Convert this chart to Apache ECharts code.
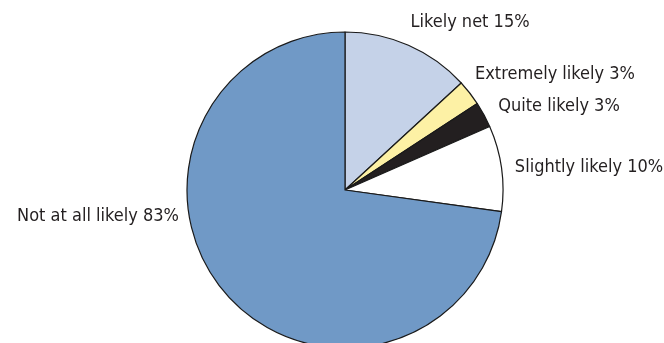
<!DOCTYPE html>
<html>
<head>
<meta charset="utf-8">
<script src="https://cdn.jsdelivr.net/npm/echarts@6/dist/echarts.min.js"></script>
<style>
  html, body { margin: 0; padding: 0; background: #fff; }
  #chart { width: 664px; height: 343px; }
</style>
</head>
<body>
<div id="chart"></div>
<script>
// Slices, clockwise from twelve o'clock
const categories = ['Likely net', 'Extremely likely', 'Quite likely', 'Slightly likely', 'Not at all likely'];
const percents = [15, 3, 3, 10, 83];
const sliceColors = ['#c5d2e8', '#fdf1a5', '#231f20', '#ffffff', '#7099c6'];

// Where each label sits (horizontal centre, vertical middle)
const labelSpots = [
  { x: 470, y: 22 },
  { x: 555, y: 74 },
  { x: 559, y: 106 },
  { x: 589, y: 167 },
  { x: 98, y: 216 }
];

const chart = echarts.init(document.getElementById('chart'), null, { renderer: 'canvas' });

chart.setOption({
  animation: false,
  backgroundColor: '#ffffff',
  series: [{
    type: 'pie',
    center: [345, 190],
    radius: [0, 158],
    startAngle: 90,
    clockwise: true,
    avoidLabelOverlap: false,
    data: categories.map((name, i) => ({
      name: name,
      value: percents[i],
      itemStyle: { color: sliceColors[i] }
    })),
    itemStyle: { borderColor: '#1a1a1a', borderWidth: 1.2 },
    label: {
      show: true,
      position: 'outside',
      formatter: '{b} {c}%',
      fontFamily: '"Liberation Sans Narrow", "DejaVu Sans Condensed", sans-serif',
      fontSize: 18,
      color: '#231f20'
    },
    labelLine: { show: false },
    labelLayout: function (params) {
      const p = labelSpots[params.dataIndex];
      return { x: p.x, y: p.y, align: 'center', verticalAlign: 'middle' };
    },
    emphasis: { disabled: true }
  }]
});
</script>
</body>
</html>
